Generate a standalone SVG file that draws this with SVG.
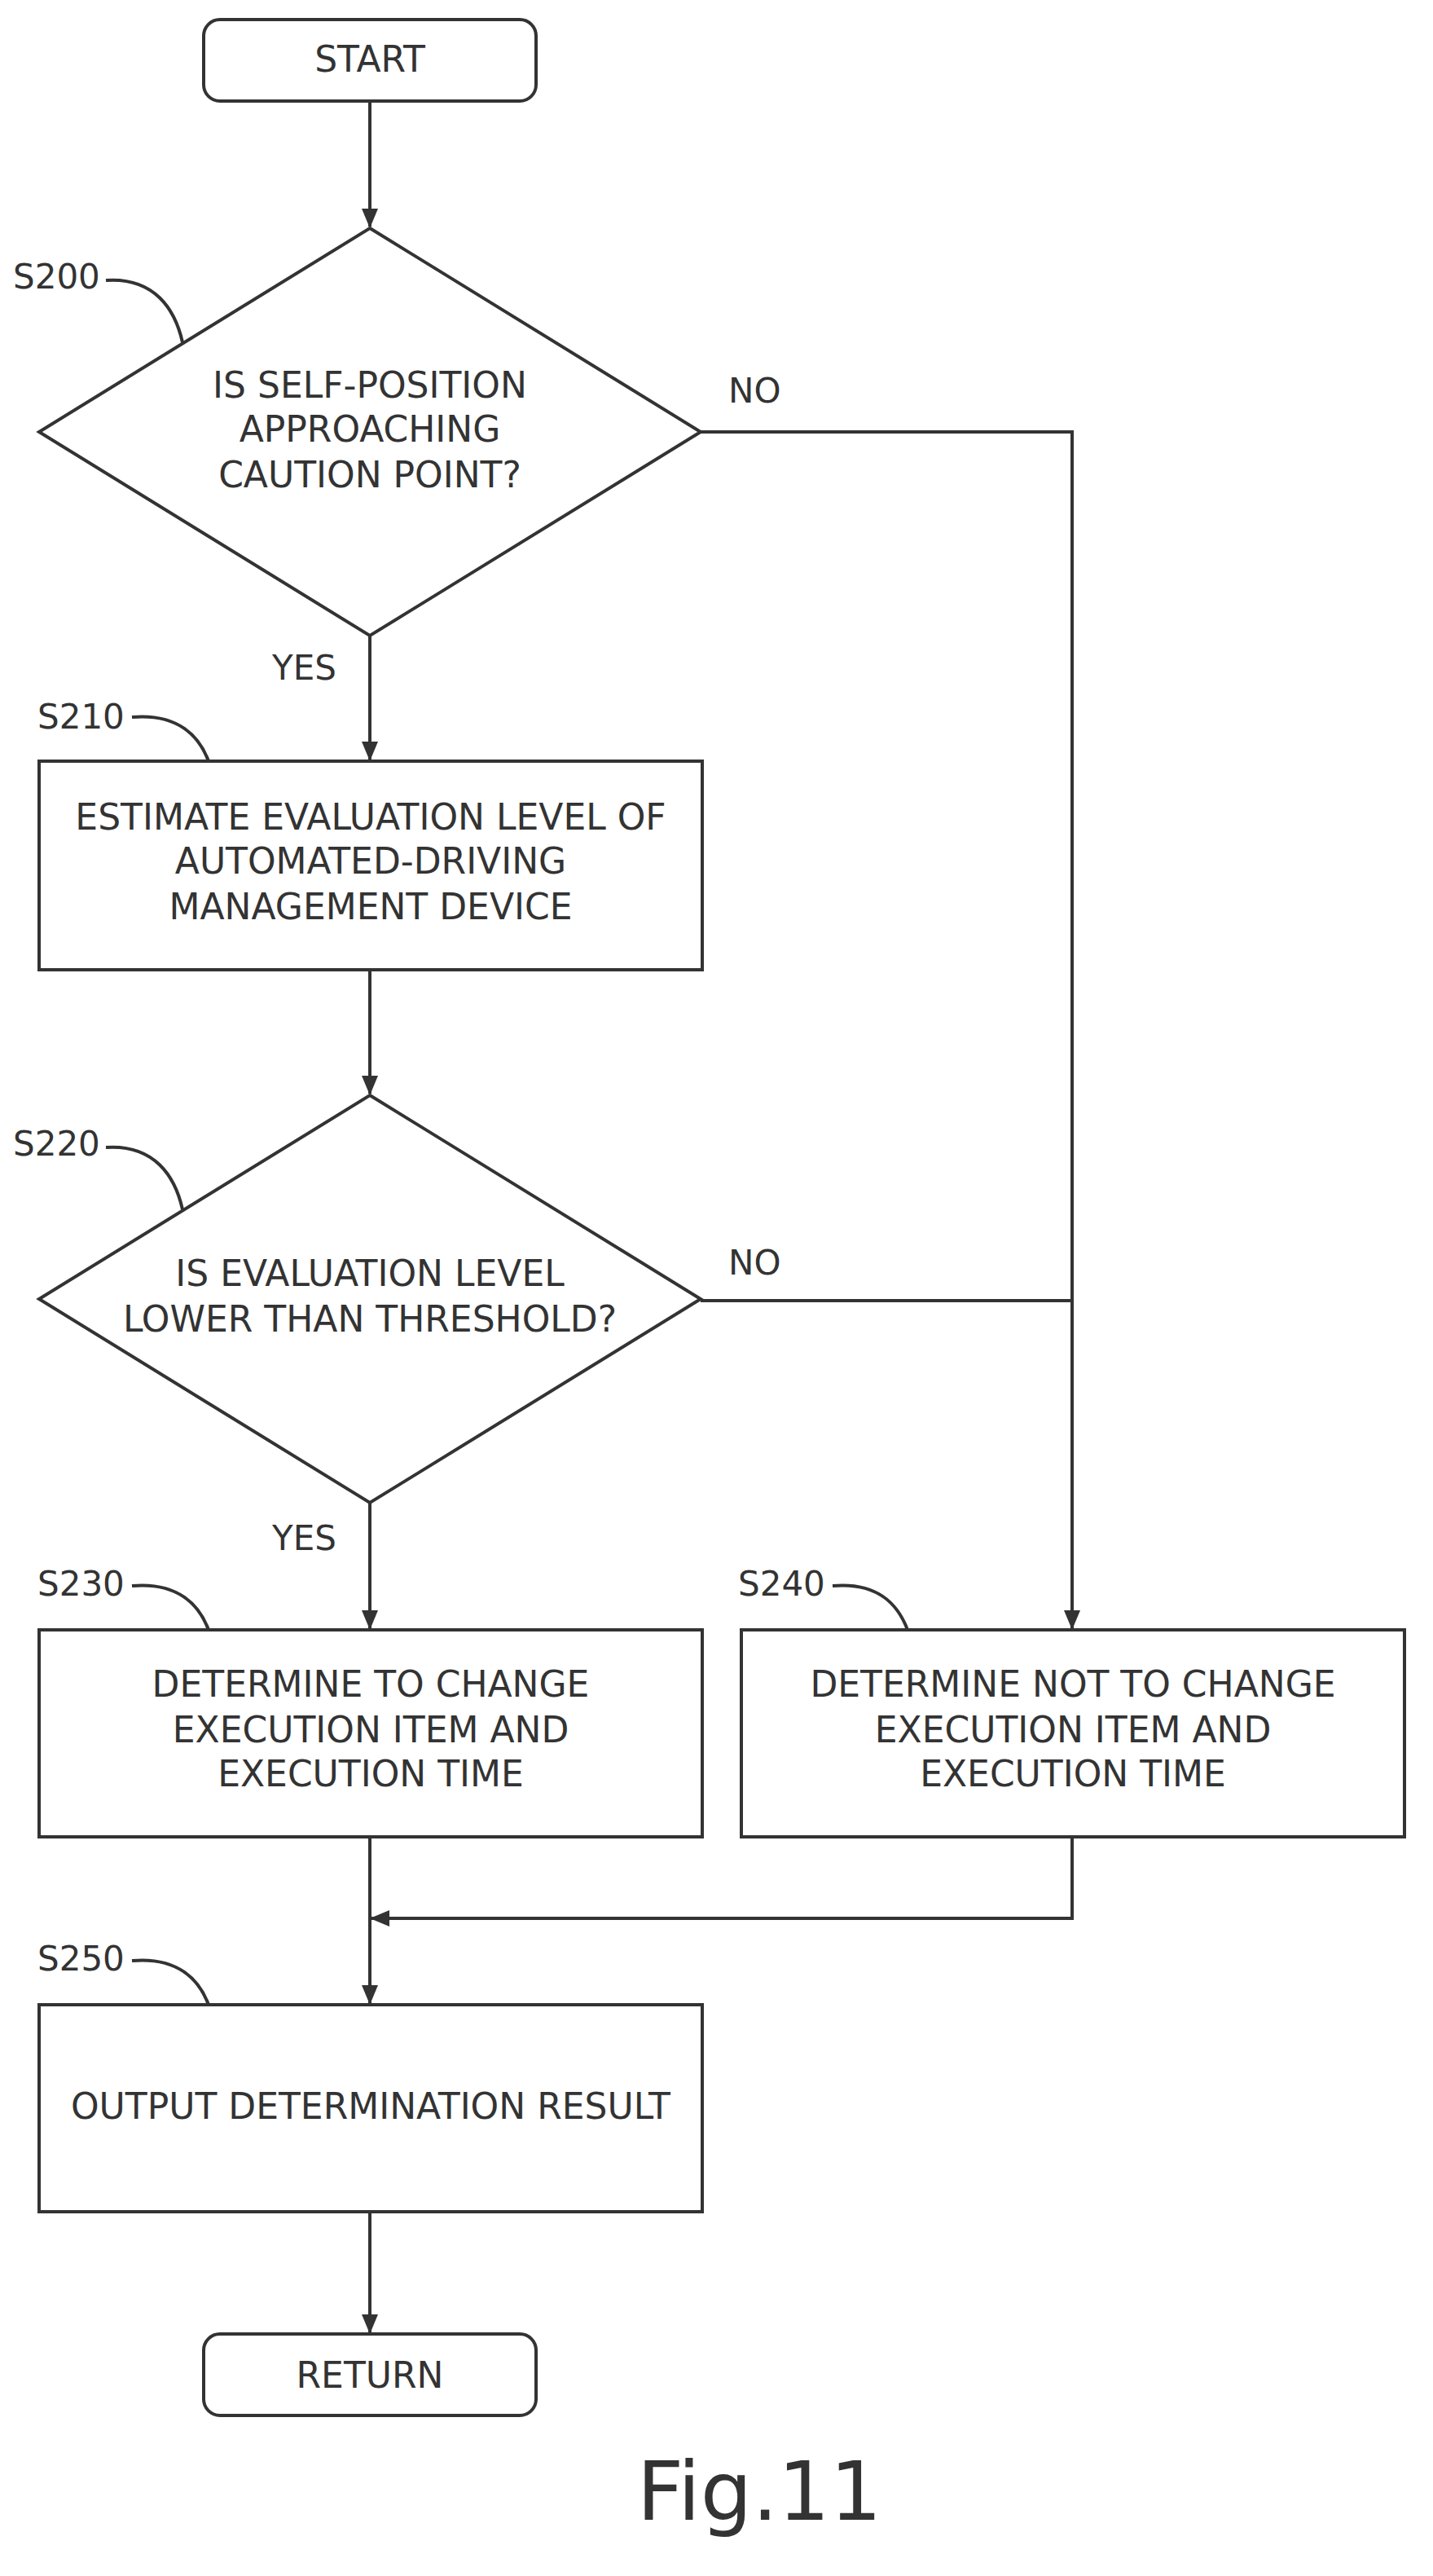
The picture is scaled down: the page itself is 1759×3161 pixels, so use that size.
<svg xmlns="http://www.w3.org/2000/svg" width="1759" height="3161" viewBox="0 0 1759 3161">
<style>
.s{fill:#fff;stroke:#333;stroke-width:4}
.c{fill:none;stroke:#333;stroke-width:4}
.t{font-family:"DejaVu Sans",sans-serif;font-size:44px;fill:#333;text-anchor:middle}
.l{font-family:"DejaVu Sans",sans-serif;font-size:42px;fill:#333}
</style>
<defs><marker id="a" markerWidth="24" markerHeight="24" refX="22" refY="10" orient="auto" markerUnits="userSpaceOnUse" viewBox="0 0 24 20"><path d="M0,0L24,10L0,20z" fill="#333"/></marker></defs>
<rect width="1759" height="3161" fill="#fff"/>
<g id="connectors">
<path class="c" d="M454 124V278" marker-end="url(#a)"/>
<path class="c" d="M454 780V932" marker-end="url(#a)"/>
<path class="c" d="M454 1190V1342" marker-end="url(#a)"/>
<path class="c" d="M454 1844V1998" marker-end="url(#a)"/>
<path class="c" d="M860 530H1316V1998" marker-end="url(#a)"/>
<path class="c" d="M860 1596H1316"/>
<path class="c" d="M454 2254V2458" marker-end="url(#a)"/>
<path class="c" d="M1316 2254V2354H456" marker-end="url(#a)"/>
<path class="c" d="M454 2714V2862" marker-end="url(#a)"/>
<path class="c" d="M130 344C190 340 215 380 224 420"/>
<path class="c" d="M162 880C220 875 245 905 256 934"/>
<path class="c" d="M130 1408C190 1404 215 1444 224 1484"/>
<path class="c" d="M162 1946C220 1941 245 1971 256 2000"/>
<path class="c" d="M1022 1946C1080 1941 1103 1971 1114 2000"/>
<path class="c" d="M162 2406C220 2401 245 2431 256 2460"/>
</g>
<g id="start"><rect class="s" x="250" y="24" width="408" height="100" rx="20"/><text class="t" x="454" y="88">START</text></g>
<g id="S200"><path class="s" d="M454 280L860 530L454 780L48 530z"/>
<text class="t" x="454" y="488">IS SELF-POSITION</text><text class="t" x="454" y="542">APPROACHING</text><text class="t" x="454" y="598">CAUTION POINT?</text>
<text class="l" x="16" y="354">S200</text><text class="l" x="894" y="494">NO</text><text class="l" x="334" y="834">YES</text></g>
<g id="S210"><rect class="s" x="48" y="934" width="814" height="256"/>
<text class="t" x="455" y="1018">ESTIMATE EVALUATION LEVEL OF</text><text class="t" x="455" y="1072">AUTOMATED-DRIVING</text><text class="t" x="455" y="1128">MANAGEMENT DEVICE</text>
<text class="l" x="46" y="894">S210</text></g>
<g id="S220"><path class="s" d="M454 1344L860 1594L454 1844L48 1594z"/>
<text class="t" x="454" y="1578">IS EVALUATION LEVEL</text><text class="t" x="454" y="1634">LOWER THAN THRESHOLD?</text>
<text class="l" x="16" y="1418">S220</text><text class="l" x="894" y="1564">NO</text><text class="l" x="334" y="1902">YES</text></g>
<g id="S230"><rect class="s" x="48" y="2000" width="814" height="254"/>
<text class="t" x="455" y="2082">DETERMINE TO CHANGE</text><text class="t" x="455" y="2138">EXECUTION ITEM AND</text><text class="t" x="455" y="2192">EXECUTION TIME</text>
<text class="l" x="46" y="1958">S230</text></g>
<g id="S240"><rect class="s" x="910" y="2000" width="814" height="254"/>
<text class="t" x="1317" y="2082">DETERMINE NOT TO CHANGE</text><text class="t" x="1317" y="2138">EXECUTION ITEM AND</text><text class="t" x="1317" y="2192">EXECUTION TIME</text>
<text class="l" x="906" y="1958">S240</text></g>
<g id="S250"><rect class="s" x="48" y="2460" width="814" height="254"/>
<text class="t" x="455" y="2600">OUTPUT DETERMINATION RESULT</text>
<text class="l" x="46" y="2418">S250</text></g>
<g id="return"><rect class="s" x="250" y="2864" width="408" height="100" rx="20"/><text class="t" x="454" y="2930">RETURN</text></g>
<text x="932" y="3092" style="font-family:'DejaVu Sans',sans-serif;font-size:100px;fill:#333;text-anchor:middle">Fig.11</text>
</svg>
